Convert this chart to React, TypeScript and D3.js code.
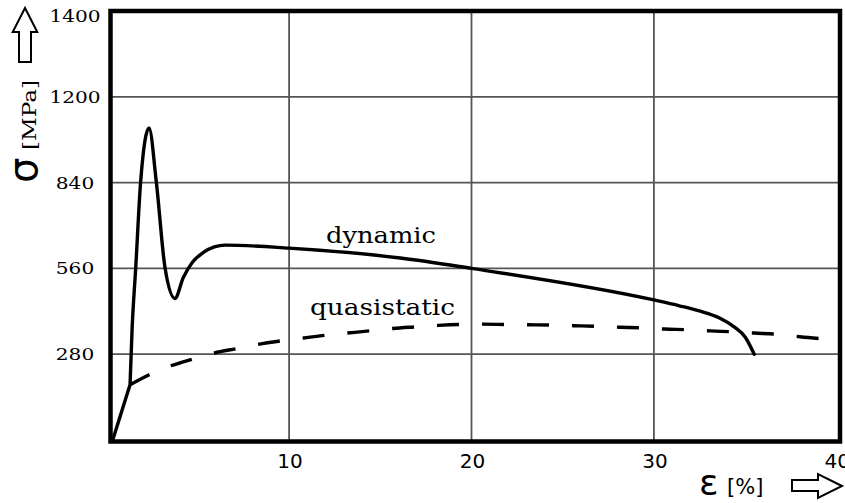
import React from "react";
import * as d3 from "d3";

// strain [%] / stress [MPa]
// first two points are the straight elastic part shared by both curves
const elasticStrain = [0.33, 1.28];
const elasticStress = [0, 180];

const dynamicStrain = [1.28, 1.39, 1.59, 1.86, 2.32, 2.72, 3.2, 3.74, 4.2, 4.7, 5.3, 5.9, 6.49, 10, 16.1, 20, 30, 31.4, 32.5, 33.6, 34.4, 35.0, 35.5];
const dynamicStress = [180, 359, 561, 842, 1018, 842, 561, 462, 530, 580, 612, 630, 636, 626, 594, 560, 457, 438, 421, 398, 369, 336, 280];

const quasiStrain = [1.28, 2.3, 3.5, 4.7, 5.9, 7.1, 8.3, 9.5, 10.8, 12, 13.2, 14.4, 15.7, 16.9, 18.2, 19.4, 20.6, 21.8, 23.1, 24.4, 25.6, 26.8, 28.1, 29.3, 30.6, 31.8, 33.1, 34.3, 35.5, 36.8, 38, 39.3];
const quasiStress = [180, 212, 242, 264, 284, 298, 312, 323, 333, 342, 349, 356, 364, 369, 374, 377, 378, 377, 376, 375, 373, 371, 368, 366, 362, 360, 356, 353, 349, 345, 337, 330];

const xTicks = [10, 20, 30, 40];
const xTickLabels = ["10", "20", "30", "40"];
const yTicks = [280, 560, 840, 1120, 1400];
const yTickLabels = ["280", "560", "840", "1200", "1400"];

const W = 845;
const H = 503;

export default function App() {
  const x = d3.scaleLinear().domain([0, 40]).range([106.7, 836.3]);
  const y = d3.scaleLinear().domain([0, 1400]).range([440, 11]);

  const smooth = d3
    .line<[number, number]>()
    .x((d) => x(d[0]))
    .y((d) => y(d[1]))
    .curve(d3.curveMonotoneX);
  const straight = d3
    .line<[number, number]>()
    .x((d) => x(d[0]))
    .y((d) => y(d[1]));

  const elastic = elasticStrain.map((s, i) => [s, elasticStress[i]] as [number, number]);
  const dyn = dynamicStrain.map((s, i) => [s, dynamicStress[i]] as [number, number]);
  const quasi = quasiStrain.map((s, i) => [s, quasiStress[i]] as [number, number]);

  // frame sits a little right of the scale origin in the original
  const left = 110.5, right = 840, top = 11, bottom = 441.5;
  const serif = "DejaVu Serif";
  const sans = "DejaVu Sans";

  return (
    <svg width={W} height={H} style={{ position: "absolute", left: 0, top: 0, background: "#fff" }}>
      <rect width={W} height={H} fill="#fff" />
      {/* grid */}
      {xTicks.slice(0, 3).map((t) => (
        <line key={"gx" + t} x1={x(t)} x2={x(t)} y1={top} y2={bottom} stroke="#555" strokeWidth={1.8} />
      ))}
      {yTicks.slice(0, 4).map((t) => (
        <line key={"gy" + t} x1={left} x2={right} y1={y(t)} y2={y(t)} stroke="#555" strokeWidth={1.8} />
      ))}

      {/* curves */}
      <path d={smooth(quasi) || ""} fill="none" stroke="#000" strokeWidth={3.4} strokeDasharray="22 23" />
      <path
        d={(straight(elastic) || "") + (smooth(dyn) || "")}
        fill="none"
        stroke="#000"
        strokeWidth={3.4}
        strokeLinejoin="round"
        strokeLinecap="round"
      />

      {/* frame */}
      <rect x={left} y={top} width={right - left} height={bottom - top} fill="none" stroke="#000" strokeWidth={4.5} />

      {/* y tick labels */}
      {yTicks.map((t, i) => (
        <text
          key={"yl" + t}
          x={75}
          y={Math.max(y(t), 15.5)}
          textAnchor="middle"
          dominantBaseline="central"
          fontFamily={serif}
          fontSize={17.5}
          textLength={yTickLabels[i].length * 12.8}
          lengthAdjust="spacingAndGlyphs"
        >
          {yTickLabels[i]}
        </text>
      ))}

      {/* x tick labels */}
      {xTicks.map((t, i) => (
        <text key={"xl" + t} x={x(t) + 1} y={468} textAnchor="middle" fontFamily={sans} fontSize={20}>
          {xTickLabels[i]}
        </text>
      ))}

      {/* curve labels */}
      <text x={326} y={243} fontFamily={serif} fontSize={22} textLength={110} lengthAdjust="spacingAndGlyphs">
        dynamic
      </text>
      <text x={310} y={315} fontFamily={serif} fontSize={22} textLength={145} lengthAdjust="spacingAndGlyphs">
        quasistatic
      </text>

      {/* y axis title */}
      <g transform="translate(37,183) rotate(-90)">
        <text x={0} y={0} fontFamily={sans} fontSize={40}>σ</text>
        <text x={33} y={-1} fontFamily={serif} fontSize={18} textLength={70} lengthAdjust="spacingAndGlyphs">
          [MPa]
        </text>
      </g>
      <path
        d="M25,8 L37.3,32 L31,32 L31,62 L19,62 L19,32 L12.7,32 Z"
        fill="#fff"
        stroke="#000"
        strokeWidth={2}
        strokeLinejoin="miter"
      />

      {/* x axis title */}
      <text x={699} y={495} fontFamily={sans} fontSize={36}>ε</text>
      <text x={727} y={494} fontFamily={sans} fontSize={21}>[%]</text>
      <path
        d="M842,486 L818,474 L818,480 L792,480 L792,491 L818,491 L818,498 Z"
        fill="#fff"
        stroke="#000"
        strokeWidth={2}
      />
    </svg>
  );
}
